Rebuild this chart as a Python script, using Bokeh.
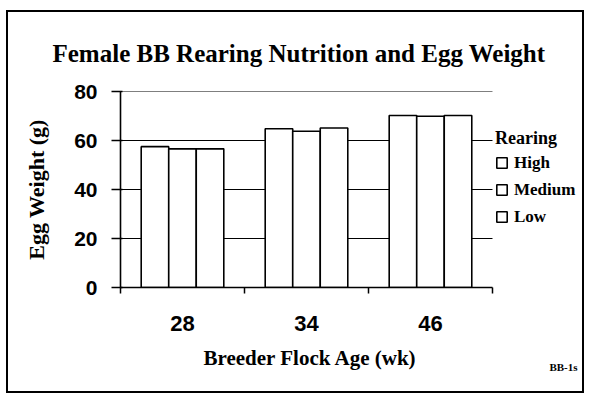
from bokeh.plotting import figure
from bokeh.models import (ColumnDataSource, FixedTicker, Range1d, Legend, LegendItem, Title)
from bokeh.transform import dodge
from bokeh.embed import file_html
from bokeh.resources import INLINE

# ---- data ----
ages = ["28", "34", "46"]
high = [57.5, 64.8, 70.2]
medium = [56.6, 63.8, 69.9]
low = [56.6, 65.1, 70.2]
series_names = ["High", "Medium", "Low"]
y_ticks = [0, 20, 40, 60, 80]
grid_ticks = [20, 40, 60, 80]

centers = [i + 0.5 for i in range(len(ages))]
bounds = [float(i) for i in range(len(ages) + 1)]
src = ColumnDataSource(dict(x=centers, high=high, medium=medium, low=low))

SERIF = "Liberation Serif"
SANS = "Liberation Sans"

# frame extends to the right so that the legend sits inside it; axis is bounded to the categories
p = figure(width=578, height=383, output_backend="svg", toolbar_location=None,
           x_range=Range1d(0, 3.726), y_range=Range1d(0, 80),
           min_border_left=112, min_border_right=4, min_border_top=79, min_border_bottom=108)
p.styles = {"border": "2px solid black", "margin": "10px 0px 0px 6px"}
p.outline_line_color = None
p.xgrid.visible = False
p.ygrid.visible = False

# horizontal grid lines (behind bars)
p.segment(x0=[bounds[0]] * len(grid_ticks), x1=[bounds[-1]] * len(grid_ticks),
          y0=grid_ticks, y1=grid_ticks, line_color="black", line_width=1.2)

p.title = Title(text="Female BB Rearing Nutrition and Egg Weight", align="left",
                vertical_align="top",
                text_font=SERIF, text_font_style="bold", text_font_size="25px",
                text_color="black", standoff=46, offset=-68)

bw = 0.222
offs = [-0.222, 0.0, 0.222]
renderers = []
for name, field, off in zip(series_names, ["high", "medium", "low"], offs):
    r = p.vbar(x=dodge("x", off, range=p.x_range), top=field, width=bw, source=src,
               fill_color="white", line_color="black", line_width=1.6)
    renderers.append(r)

# x axis
xa = p.xaxis[0]
xa.bounds = (bounds[0], bounds[-1])
xa.ticker = FixedTicker(ticks=centers, minor_ticks=bounds)
xa.major_label_overrides = {c: a for c, a in zip(centers, ages)}
xa.major_tick_out = 0
xa.major_tick_in = 0
xa.minor_tick_out = 6
xa.minor_tick_in = 0
xa.minor_tick_line_color = "black"
xa.minor_tick_line_width = 1.5
xa.axis_line_color = "black"
xa.axis_line_width = 1.6
xa.major_label_text_font = SANS
xa.major_label_text_font_style = "bold"
xa.major_label_text_font_size = "22px"
xa.major_label_text_color = "black"
xa.major_label_standoff = 22
xa.axis_label = ""
xa.axis_label_text_font_size = "1px"

# x axis title as a below Title (so it centres on the category area, not on the wide frame)
xlabel = Title(text="Breeder Flock Age (wk)", align="left", text_font=SERIF,
               text_font_style="bold", text_font_size="21px", text_color="black",
               standoff=21, offset=83)
p.add_layout(xlabel, "below")

# y axis
ya = p.yaxis[0]
ya.ticker = FixedTicker(ticks=y_ticks)
ya.major_tick_out = 9
ya.major_tick_in = 2
ya.major_tick_line_width = 1.5
ya.major_tick_line_color = "black"
ya.minor_tick_line_color = None
ya.axis_line_color = "black"
ya.axis_line_width = 1.6
ya.major_label_text_font = SANS
ya.major_label_text_font_style = "bold"
ya.major_label_text_font_size = "21px"
ya.major_label_text_color = "black"
ya.major_label_standoff = 14
ya.axis_label = "Egg Weight (g)"
ya.axis_label_text_font = SERIF
ya.axis_label_text_font_style = "bold"
ya.axis_label_text_font_size = "22px"
ya.axis_label_text_color = "black"
ya.axis_label_standoff = 22

# legend
legend = Legend(items=[LegendItem(label=n, renderers=[r]) for n, r in zip(series_names, renderers)],
                title="Rearing", location=(375, 60))
legend.title_text_font = SERIF
legend.title_text_font_style = "bold"
legend.title_text_font_size = "18px"
legend.title_text_color = "black"
legend.title_standoff = 3
legend.label_text_font = SERIF
legend.label_text_font_style = "bold"
legend.label_text_font_size = "17px"
legend.label_text_color = "black"
legend.glyph_width = 13
legend.glyph_height = 13
legend.label_height = 21
legend.spacing = 6
legend.label_standoff = 6
legend.padding = 2
legend.margin = 0
legend.border_line_color = None
legend.background_fill_alpha = 0
p.add_layout(legend, "center")

# footnote
note = Title(text="BB-1s", align="right", vertical_align="top", text_font=SERIF,
             text_font_style="bold", text_font_size="11px", text_color="black",
             standoff=-39, offset=5)
p.add_layout(note, "below")

open("out.html", "w").write(file_html(p, INLINE))
